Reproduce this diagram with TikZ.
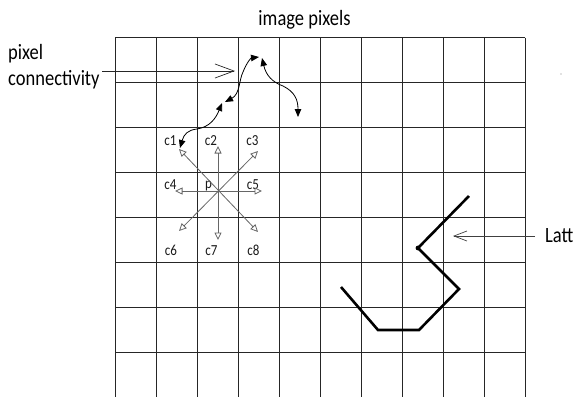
\documentclass[tikz,border=0pt]{standalone}
\usepackage{fontspec}
\setmainfont{Carlito}
\usetikzlibrary{arrows.meta}
\newcommand{\vst}[1]{\scalebox{1}[1.18]{#1}}
\begin{document}
\begin{tikzpicture}[x=1pt,y=-1pt,
  gridline/.style={black!85, line width=0.95pt},
  big/.style={font=\fontsize{18.5}{22}\selectfont, inner sep=0pt, text=black},
  small/.style={font=\fontsize{13}{15}\selectfont, inner sep=0pt, text=black!90},
  ptr/.style={black!85, line width=0.7pt, -{Straight Barb[length=19pt,width=14pt]}},
  lptr/.style={black!75, line width=0.7pt, -{Straight Barb[length=13pt,width=10pt]}},
  carrow/.style={black!60, line width=0.8pt, {Triangle[open,length=7.5pt,width=7pt]}-{Triangle[open,length=7.5pt,width=7pt]}},
  cur/.style={black, line width=0.8pt, {Triangle[length=8pt,width=6.5pt]}-{Triangle[length=8pt,width=6.5pt]}},
  latt/.style={black, line width=2.6pt, line join=miter}
]
\useasboundingbox (0,0) rectangle (574,397);
% grid
\foreach \i in {0,...,10} \draw[gridline] (115+41*\i,37.5) -- (115+41*\i,397);
\foreach \j in {0,...,7} \draw[gridline] (115,37.5+45*\j) -- (525,37.5+45*\j);
% titles
\node[big, anchor=base] (title) at (304.5,25) {\vst{image pixels}};
\node[big, anchor=base west] (pix) at (8,59) {\vst{pixel}};
\node[big, anchor=base west] (conn) at (8,85) {\vst{connectivity}};
\node[big, anchor=base west] (lattl) at (545,242.5) {\vst{Latt}};
% pointer arrows
\coordinate (ps) at (102,71);
\coordinate (pt) at (235,71);
\draw[ptr] (ps) -- (pt);
\coordinate (ls) at (535,236);
\coordinate (lt) at (453,236);
\draw[lptr] (ls) -- (lt);
% labels
\node[small, anchor=base] (c1) at (170.5,145) {\vst{c1}};
\node[small, anchor=base] (c2) at (211,145) {\vst{c2}};
\node[small, anchor=base] (c3) at (252.5,145) {\vst{c3}};
\node[small, anchor=base] (c4) at (170.5,189) {\vst{c4}};
\node[small, anchor=base] (p) at (208.5,188) {\vst{p}};
\node[small, anchor=base] (c5) at (253,189) {\vst{c5}};
\node[small, anchor=base] (c6) at (171,255) {\vst{c6}};
\node[small, anchor=base] (c7) at (211.5,255) {\vst{c7}};
\node[small, anchor=base] (c8) at (253.5,255) {\vst{c8}};
% connectivity arrows
\coordinate (t1) at (179,149);
\coordinate (t2) at (218,146);
\coordinate (t3) at (258,151);
\coordinate (t4) at (175,191);
\coordinate (t5) at (262,191);
\coordinate (t6) at (179,231);
\coordinate (t7) at (218,240);
\coordinate (t8) at (258,232);
\draw[carrow] (t1) -- (t8);
\draw[carrow] (t3) -- (t6);
\draw[carrow] (t2) -- (t7);
\draw[carrow] (t4) -- (t5);
% curvy arrows
\coordinate (a1) at (180,148);
\coordinate (a2) at (222,103);
\coordinate (b1) at (225,102);
\coordinate (b2) at (259,57);
\coordinate (d1) at (262,58);
\coordinate (d2) at (298,117);
\draw[cur] (a1) .. controls (184,134) and (188,130) .. (197,129) .. controls (210,127) and (216,118) .. (a2);
\draw[cur] (b1) .. controls (240,94) and (239,80) .. (243,72) .. controls (247,62) and (251,58) .. (b2);
\draw[cur] (d1) .. controls (266,75) and (272,82) .. (283,86) .. controls (295,92) and (298,100) .. (d2);
% latt polyline
\coordinate (l1) at (469,196);
\coordinate (l2) at (418,248);
\coordinate (l3) at (459,289);
\coordinate (l4) at (419,330);
\coordinate (l5) at (378,330);
\coordinate (l6) at (341,287);
\draw[latt] (l1) -- (l2) -- (l3) -- (l4) -- (l5) -- (l6);
\fill (l2) circle (2.4);
% stray dot
\fill[black!50] (561,74) circle (0.7);
\end{tikzpicture}
\end{document}
